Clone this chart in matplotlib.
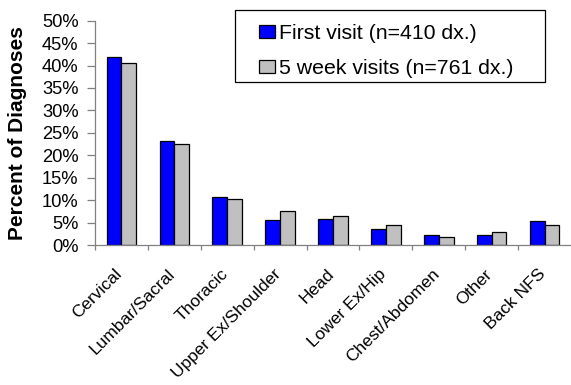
import matplotlib
matplotlib.use("Agg")
import matplotlib.pyplot as plt
from matplotlib.patches import Patch, Rectangle
from matplotlib.ticker import PercentFormatter
from matplotlib.transforms import ScaledTranslation
import numpy as np

plt.rcParams['font.family'] = ['Liberation Sans', 'DejaVu Sans']

categories = ["Cervical", "Lumbar/Sacral", "Thoracic", "Upper Ex/Shoulder", "Head",
              "Lower Ex/Hip", "Chest/Abdomen", "Other", "Back NFS"]
first_visit = [42.0, 23.2, 10.8, 5.5, 5.9, 3.5, 2.3, 2.3, 5.3]
five_week = [40.6, 22.6, 10.3, 7.5, 6.4, 4.4, 1.7, 2.8, 4.5]
series_labels = ["First visit (n=410 dx.)", "5 week visits (n=761 dx.)"]
y_ticks = [0, 5, 10, 15, 20, 25, 30, 35, 40, 45, 50]

W, H = 571, 385
fig = plt.figure(figsize=(W / 100, H / 100), dpi=100)
ax = fig.add_axes([95 / W, 140 / H, 476 / W, 224.3 / H])

x = np.arange(len(categories))
w = 0.28
ax.bar(x - w / 2, first_visit, w, color="#0000FF", edgecolor="black", linewidth=0.9)
ax.bar(x + w / 2, five_week, w, color="#C0C0C0", edgecolor="black", linewidth=0.9)

ax.set_xlim(-0.5, len(categories) - 0.5)
ax.set_ylim(0, 50)
ax.set_yticks(y_ticks)
ax.yaxis.set_major_formatter(PercentFormatter(decimals=0))
ax.tick_params(axis='y', direction='out', length=5.8, width=0.9, color='#808080',
               labelsize=13.2, pad=6)

ax.set_xticks(x)
ax.set_xticklabels(categories, rotation=45, ha='right', va='top',
                   rotation_mode='anchor', fontsize=12.5)
ax.tick_params(axis='x', which='major', length=0, pad=15.5)
shift = ScaledTranslation(-7 / 100, 0, fig.dpi_scale_trans)
for lbl in ax.get_xticklabels():
    lbl.set_transform(lbl.get_transform() + shift)
ax.set_xticks(np.arange(len(categories)) - 0.5, minor=True)
ax.tick_params(axis='x', which='minor', direction='out', length=3.8, width=0.9, color='#808080')

for side in ('top', 'right'):
    ax.spines[side].set_visible(False)
for side in ('left', 'bottom'):
    ax.spines[side].set_color('#808080')
    ax.spines[side].set_linewidth(0.9)

fig.text(18 / W, 1 - 133 / H, "Percent of Diagnoses", rotation=90, ha='center',
         va='center', fontsize=15, fontweight='bold')

# legend frame drawn as its own box, entries placed inside it
fig.patches.append(Rectangle((235 / W, 1 - 82 / H), 310 / W, 72 / H,
                             transform=fig.transFigure, facecolor='white',
                             edgecolor='black', linewidth=0.9, zorder=5))
handles = [Patch(facecolor="#0000FF", edgecolor="black", linewidth=0.9),
           Patch(facecolor="#C0C0C0", edgecolor="black", linewidth=0.9)]
leg = fig.legend(handles, series_labels, loc='upper left',
                 bbox_to_anchor=(259 / W, 1 - 24 / H),
                 fontsize=15.3, frameon=False,
                 handlelength=0.74, handleheight=0.58,
                 handletextpad=0.18, labelspacing=0.75, borderpad=0, borderaxespad=0)
leg.set_zorder(6)

fig.savefig("out.png", dpi=100)
